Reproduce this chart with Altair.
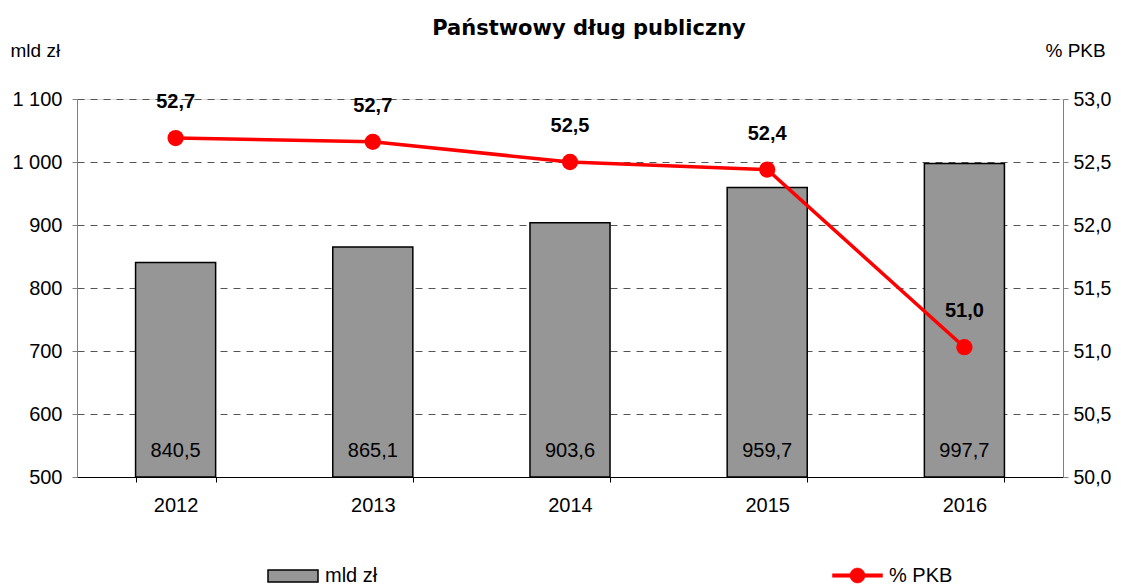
import altair as alt
import pandas as pd

years = ["2012", "2013", "2014", "2015", "2016"]
debt = [840.5, 865.1, 903.6, 959.7, 997.7]
gdp_pct = [52.69, 52.66, 52.50, 52.44, 51.03]
series_bar = "mld zł"
series_line = "% PKB"

df = pd.DataFrame({
    "year": years,
    "debt": debt,
    "pct": gdp_pct,
    "debt_label": [f"{v:.1f}".replace(".", ",") for v in debt],
    "pct_label": [f"{v:.1f}".replace(".", ",") for v in gdp_pct],
    "s_bar": [series_bar] * len(years),
    "s_line": [series_line] * len(years),
})

FONT = "Liberation Sans"

x_enc = alt.X(
    "year:N",
    scale=alt.Scale(paddingInner=0.594, paddingOuter=0.297),
    axis=alt.Axis(
        title=None, labelAngle=0, tickBand="extent", domainColor="black",
        tickColor="black", tickSize=5, labelPadding=13, labelFontSize=20,
        labelColor="black", grid=False, labelFont=FONT,
    ),
)

y_left = alt.Y(
    "debt:Q",
    scale=alt.Scale(domain=[500, 1100], nice=False, zero=False),
    axis=alt.Axis(
        values=[500, 600, 700, 800, 900, 1000, 1100],
        labelExpr="replace(format(datum.value, ',.0f'), ',', ' ')",
        title=series_bar, titleAngle=0, titleAlign="left", titleBaseline="middle",
        titleX=-67, titleY=-49, titleFontSize=19, titleFontWeight="normal",
        titleFont=FONT, titleColor="black",
        grid=True, gridDash=[7, 6], gridColor="#555555", gridWidth=1,
        domainColor="#808080", tickColor="#808080", tickSize=5,
        labelPadding=10, labelFontSize=20, labelFont=FONT, labelColor="black",
    ),
)

bars = alt.Chart(df).mark_bar(stroke="black", strokeWidth=1.5).encode(
    x=x_enc,
    y=y_left,
    y2=alt.datum(500),
    fill=alt.Fill(
        "s_bar:N",
        scale=alt.Scale(domain=[series_bar], range=["#969696"]),
        legend=alt.Legend(
            title=None, orient="none", legendX=190, legendY=451,
            symbolType="M-1,-0.24H1V0.24H-1Z", symbolSize=2500,
            symbolStrokeColor="black", symbolStrokeWidth=1.5,
            labelFontSize=20, labelFont=FONT, labelColor="black",
            labelOffset=6, padding=0,
        ),
    ),
)

bar_text = alt.Chart(df).mark_text(
    dy=-26, fontSize=20, font=FONT, color="black"
).encode(
    x=x_enc,
    y=alt.datum(500),
    text="debt_label:N",
)

y_right = alt.Y(
    "pct:Q",
    scale=alt.Scale(domain=[50, 53], nice=False, zero=False),
    axis=alt.Axis(
        orient="right",
        values=[50, 50.5, 51, 51.5, 52, 52.5, 53],
        labelExpr="replace(format(datum.value, '.1f'), '.', ',')",
        title=series_line, titleAngle=0, titleAlign="left", titleBaseline="middle",
        titleX=-18, titleY=-49, titleFontSize=19, titleFontWeight="normal",
        titleFont=FONT, titleColor="black",
        grid=False, domainColor="#808080", tickColor="#808080", tickSize=5,
        labelPadding=5, labelFontSize=19.5, labelFont=FONT, labelColor="black",
    ),
)

line = alt.Chart(df).mark_line(strokeWidth=3.5).encode(
    x=x_enc,
    y=y_right,
    stroke=alt.Stroke(
        "s_line:N",
        scale=alt.Scale(domain=[series_line], range=["#ff0000"]),
        legend=alt.Legend(
            title=None, orient="none", legendX=755, legendY=451,
            symbolType="M-1,-0.07H1V0.07H-1Z M0.3,0A0.3,0.3 0 1,1 -0.3,0A0.3,0.3 0 1,1 0.3,0Z",
            symbolSize=2500, symbolFillColor="#ff0000", symbolStrokeWidth=0.5,
            labelFontSize=20, labelFont=FONT, labelColor="black",
            labelOffset=6, padding=0,
        ),
    ),
)

points = alt.Chart(df).mark_circle(size=265, color="#ff0000", opacity=1).encode(
    x=x_enc,
    y=y_right,
)

pct_text = alt.Chart(df).mark_text(
    dy=-36, fontSize=20, font=FONT, fontWeight="bold", color="black"
).encode(
    x=x_enc,
    y=y_right,
    text="pct_label:N",
)

chart = alt.layer(
    alt.layer(bars, bar_text),
    alt.layer(line, points, pct_text),
).resolve_scale(y="independent").properties(
    width=986,
    height=378,
    autosize=alt.AutoSizeParams(type="none"),
    padding={"left": 69, "top": 91, "right": 50, "bottom": 107},
    title=alt.TitleParams(
        "Państwowy dług publiczny", font="DejaVu Sans", fontSize=21, fontWeight="bold",
        color="black", anchor="middle", dx=19, offset=2,
    ),
).configure_view(stroke=None).configure(font=FONT)

chart.save("out.html", embed_options={"renderer": "svg", "actions": False})
